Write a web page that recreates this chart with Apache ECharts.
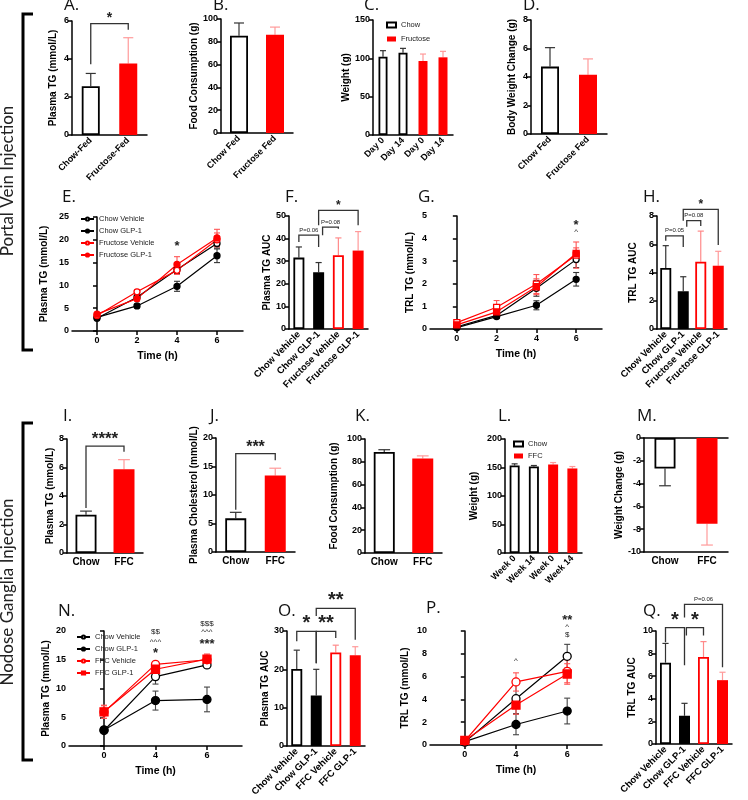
<!DOCTYPE html>
<html><head><meta charset="utf-8">
<script src="https://cdn.jsdelivr.net/npm/echarts@6/dist/echarts.min.js"></script>
<style>html,body{margin:0;padding:0;background:#fff}#c{width:748px;height:800px}</style>
</head><body><div id="c"></div>
<script>
// ================= DATA =================
const A_cats = ['Chow-Fed', 'Fructose-Fed'];
const A_mean = [2.57, 3.76];
const A_err = [3.24, 5.12];

const B_cats = ['Chow Fed', 'Fructose Fed'];
const B_mean = [85.3, 86.2];
const B_err = [96.5, 92.9];

const C_cats = ['Day 0', 'Day 14', 'Day 0', 'Day 14'];
const C_chow = [102.2, 107.4];
const C_chowErr = [110, 113];
const C_fru = [96.5, 101.3];
const C_fruErr = [105.6, 109.1];

const D_cats = ['Chow Fed', 'Fructose Fed'];
const D_mean = [4.73, 4.15];
const D_err = [6.06, 5.27];

const E_time = [0, 2, 4, 6];
const E_chowVeh = [2.8, 7.4, 13.5, 19.2];
const E_chowVehSem = [0.3, 0.5, 0.9, 1.0];
const E_chowGlp = [3.0, 5.5, 9.8, 16.5];
const E_chowGlpSem = [0.3, 0.4, 1.1, 1.5];
const E_fruVeh = [3.4, 8.6, 13.3, 20.0];
const E_fruVehSem = [0.4, 0.5, 0.9, 1.5];
const E_fruGlp = [3.7, 7.1, 14.6, 20.4];
const E_fruGlpSem = [0.4, 0.6, 1.7, 1.9];

const F_cats = ['Chow Vehicle', 'Chow GLP-1', 'Fructose Vehicle', 'Fructose GLP-1'];
const F_mean = [31.6, 25.1, 32.6, 34.7];
const F_err = [36.3, 29.4, 40.3, 43.1];

const G_time = [0, 2, 4, 6];
const G_chowVeh = [0.1, 0.6, 1.8, 3.07];
const G_chowVehSem = [0.05, 0.12, 0.35, 0.35];
const G_chowGlp = [0.06, 0.55, 1.05, 2.2];
const G_chowGlpSem = [0.05, 0.08, 0.2, 0.3];
const G_fruVeh = [0.28, 0.96, 1.99, 3.27];
const G_fruVehSem = [0.06, 0.3, 0.42, 0.58];
const G_fruGlp = [0.18, 0.76, 1.87, 3.34];
const G_fruGlpSem = [0.05, 0.2, 0.35, 0.25];

const H_cats = ['Chow Vehicle', 'Chow GLP-1', 'Fructose Vehicle', 'Fructose GLP-1'];
const H_mean = [4.32, 2.67, 4.76, 4.48];
const H_err = [5.9, 3.7, 6.93, 5.5];

const I_cats = ['Chow', 'FFC'];
const I_mean = [2.68, 5.87];
const I_err = [2.94, 6.55];

const J_cats = ['Chow', 'FFC'];
const J_mean = [5.9, 13.4];
const J_err = [6.96, 14.7];

const K_cats = ['Chow', 'FFC'];
const K_mean = [88.7, 82.8];
const K_err = [90.6, 85.2];

const L_cats = ['Week 0', 'Week 14', 'Week 0', 'Week 14'];
const L_chow = [153.5, 151.7];
const L_chowErr = [156.4, 153.5];
const L_ffc = [155.2, 148.3];
const L_ffcErr = [158.7, 151.7];

const M_cats = ['Chow', 'FFC'];
const M_mean = [-2.67, -7.53];
const M_err = [-4.19, -9.39];

const N_time = ['0', '4', '6'];
const N_chowVeh = [2.7, 12.07, 14.1];
const N_chowVehSem = [0.3, 1.3, 0.5];
const N_chowGlp = [2.8, 7.9, 8.1];
const N_chowGlpSem = [0.3, 1.65, 2.15];
const N_ffcVeh = [5.9, 14.2, 15.0];
const N_ffcVehSem = [1.1, 0.4, 0.8];
const N_ffcGlp = [5.95, 13.35, 15.1];
const N_ffcGlpSem = [1.15, 0.5, 0.9];

const O_cats = ['Chow Vehicle', 'Chow GLP-1', 'FFC Vehicle', 'FFC GLP-1'];
const O_mean = [20.1, 13.2, 24.4, 23.7];
const O_err = [25.0, 20.0, 26.3, 25.9];

const P_time = ['0', '4', '6'];
const P_chowVeh = [0.25, 4.06, 7.78];
const P_chowVehSem = [0.1, 1.3, 1.05];
const P_chowGlp = [0.3, 1.8, 2.98];
const P_chowGlpSem = [0.1, 0.9, 1.13];
const P_ffcVeh = [0.35, 5.53, 6.46];
const P_ffcVehSem = [0.1, 0.8, 1.0];
const P_ffcGlp = [0.4, 3.5, 6.23];
const P_ffcGlpSem = [0.1, 0.8, 0.9];

const Q_cats = ['Chow Vehicle', 'Chow GLP-1', 'FFC Vehicle', 'FFC GLP-1'];
const Q_mean = [7.2, 2.5, 7.7, 5.65];
const Q_err = [8.9, 3.6, 9.06, 6.35];

// significance brackets: [leftCat, rightCat, top, leftLegEnd, rightLegEnd, text]
const A_sig = [[0, 1, 5.86, 3.72, 5.54, '*']];
const F_sig = [[0, 1, 41.5, 38.5, 36.3, 'P=0.06'], [1, 2, 45.1, 41.5, 44.4, 'P=0.08'], [1, 3, 52.5, 45.9, 45.9, '*']];
const H_sig = [[0, 1, 6.6, 6.25, 5.8, 'P=0.05'], [1, 2, 7.67, 7.24, 7.3, 'P=0.08'], [1, 3, 8.47, 7.67, 5.94, '*']];
const I_sig = [[0, 1, 7.5, 3.15, 7.1, '****']];
const J_sig = [[0, 1, 17.25, 7.4, 16.1, '***']];
const O_sig = [[0, 1, 29.9, 27.3, 21.6, '*'], [1, 2, 29.9, 21.6, 28.2, '**'], [1, 3, 35.9, 33.9, 27.7, '**']];
const Q_sig = [[0, 1, 10.3, 9.0, 6.97, '*'], [1, 2, 10.3, 9.6, 9.6, '*'], [1, 3, 12.35, 11.2, 6.8, 'P=0.06']];

// point annotations: [x, y, text]
const E_marks = [[4, 19.2, '*']];
const G_marks = [[6, 4.73, '*'], [6, 4.3, '^']];
const N_marks = [[1, 19.8, '$$'], [1, 18.1, '^^^'], [1, 16.7, '*'], [2, 21.2, '$$$'], [2, 19.8, '^^^'], [2, 18.3, '***']];
const P_marks = [[1, 7.37, '^'], [2, 11.2, '**'], [2, 10.4, '^'], [2, 9.7, '$']];

// ================= STYLE / BUILD =================
const FONT = 'Liberation Sans';
const RED = '#ff0000';
const ST = {
  white: { color: '#fff', borderColor: '#000', borderWidth: 1.8 },
  black: { color: '#000', borderColor: '#000', borderWidth: 1.8 },
  redOpen: { color: '#fff', borderColor: RED, borderWidth: 1.8 },
  red: { color: RED, borderColor: RED, borderWidth: 0 }
};
const ERRC = { white: '#333', black: '#333', redOpen: '#ff8a8a', red: '#ff9a9a' };

const option = {
  backgroundColor: '#fff', animation: false,
  grid: [], xAxis: [], yAxis: [], series: [], legend: [], title: [], graphic: []
};

function addGrid(l, t, w, h) {
  option.grid.push({ left: l, top: t, width: w, height: h });
  return option.grid.length - 1;
}
function yAx(gi, min, max, interval, name, gap) {
  option.yAxis.push({
    type: 'value', gridIndex: gi, min, max, interval, name, nameLocation: 'middle', nameGap: gap,
    nameTextStyle: { fontFamily: FONT, fontWeight: 'bold', fontSize: 10, color: '#000' },
    axisLine: { show: true, lineStyle: { color: '#000', width: 1.5 } },
    axisTick: { show: true, length: 4, lineStyle: { color: '#000', width: 1.5 } },
    axisLabel: { fontFamily: FONT, fontWeight: 'bold', fontSize: 9, color: '#000', margin: 3 },
    splitLine: { show: false }
  });
  return option.yAxis.length - 1;
}
function catX(gi, cats, rotate, fs) {
  option.xAxis.push({
    type: 'category', gridIndex: gi, data: cats, boundaryGap: true,
    axisLine: { onZero: false, lineStyle: { color: '#000', width: 1.5 } },
    axisTick: { alignWithLabel: true, length: 4, lineStyle: { color: '#000', width: 1.5 } },
    axisLabel: { rotate, interval: 0, fontFamily: FONT, fontWeight: 'bold', fontSize: fs, color: '#000', margin: 4 },
    splitLine: { show: false }
  });
  return option.xAxis.length - 1;
}
function valX(gi, min, max, ticks, fmt) {
  option.xAxis.push({
    type: 'value', gridIndex: gi, min, max,
    name: 'Time (h)', nameLocation: 'middle', nameGap: 20,
    nameTextStyle: { fontFamily: FONT, fontWeight: 'bold', fontSize: 10.5, color: '#000' },
    axisLine: { onZero: false, lineStyle: { color: '#000', width: 1.5 } },
    axisTick: { length: 4, customValues: ticks, lineStyle: { color: '#000', width: 1.5 } },
    axisLabel: { customValues: ticks, formatter: fmt, fontFamily: FONT, fontWeight: 'bold', fontSize: 9, color: '#000', margin: 5 },
    splitLine: { show: false }
  });
  return option.xAxis.length - 1;
}
function errSeries(xi, yi, rows, colors, capHalf) {
  option.series.push({
    type: 'custom', xAxisIndex: xi, yAxisIndex: yi, silent: true, z: 1, clip: false,
    data: rows, encode: { x: 0, y: [1, 2] },
    renderItem(params, api) {
      const x = api.value(0);
      const p0 = api.coord([x, api.value(1)]);
      const p1 = api.coord([x, api.value(2)]);
      const c = colors[params.dataIndex];
      const st = { stroke: c, lineWidth: 1.2 };
      return { type: 'group', children: [
        { type: 'line', shape: { x1: p0[0], y1: p0[1], x2: p1[0], y2: p1[1] }, style: st },
        { type: 'line', shape: { x1: p1[0] - capHalf, y1: p1[1], x2: p1[0] + capHalf, y2: p1[1] }, style: st }
      ] };
    }
  });
}
function lineErr(xi, yi, xs, mean, sem, color, capHalf) {
  option.series.push({
    type: 'custom', xAxisIndex: xi, yAxisIndex: yi, silent: true, z: 1, clip: false,
    data: xs.map((x, i) => [x, mean[i] - sem[i], mean[i] + sem[i]]), encode: { x: 0, y: [1, 2] },
    renderItem(params, api) {
      const x = api.value(0);
      const lo = api.coord([x, api.value(1)]);
      const hi = api.coord([x, api.value(2)]);
      const st = { stroke: color, lineWidth: 1.1 };
      return { type: 'group', children: [
        { type: 'line', shape: { x1: lo[0], y1: lo[1], x2: hi[0], y2: hi[1] }, style: st },
        { type: 'line', shape: { x1: lo[0] - capHalf, y1: lo[1], x2: lo[0] + capHalf, y2: lo[1] }, style: st },
        { type: 'line', shape: { x1: hi[0] - capHalf, y1: hi[1], x2: hi[0] + capHalf, y2: hi[1] }, style: st }
      ] };
    }
  });
}
function sigSeries(xi, yi, specs, starSize, dx) {
  option.series.push({
    type: 'custom', xAxisIndex: xi, yAxisIndex: yi, silent: true, z: 5, clip: false,
    data: specs.map(s => [s[0], s[1], s[2], s[3], s[4]]), encode: { x: [0, 1], y: [2, 3, 4] },
    renderItem(params, api) {
      const s = specs[params.dataIndex];
      const bw = api.size([1, 0])[0];
      const off = (dx && dx[params.dataIndex]) || [0, 0];
      const x1 = api.coord([s[0], s[2]])[0] + off[0] * bw;
      const x2 = api.coord([s[1], s[2]])[0] + off[1] * bw;
      const yt = api.coord([s[0], s[2]])[1];
      const yl = api.coord([s[0], s[3]])[1];
      const yr = api.coord([s[1], s[4]])[1];
      const isP = s[5].indexOf('P=') === 0;
      return { type: 'group', children: [
        { type: 'polyline', shape: { points: [[x1, yl], [x1, yt], [x2, yt], [x2, yr]] }, style: { stroke: '#333', lineWidth: 1.3, fill: null } },
        { type: 'text', style: { text: s[5], x: (x1 + x2) / 2, y: isP ? yt - 2 : yt + starSize * 0.12,
          align: 'center', verticalAlign: 'bottom', fontFamily: FONT,
          fontSize: isP ? 6 : starSize, fontWeight: isP ? 'normal' : 'bold', fill: '#222' } }
      ] };
    }
  });
}
function markSeries(xi, yi, marks) {
  option.series.push({
    type: 'custom', xAxisIndex: xi, yAxisIndex: yi, silent: true, z: 6, clip: false,
    data: marks.map(m => [m[0], m[1]]), encode: { x: 0, y: 1 },
    renderItem(params, api) {
      const m = marks[params.dataIndex];
      const p = api.coord([m[0], m[1]]);
      const star = m[2].indexOf('*') >= 0;
      const fs = star ? 13 : 8;
      return { type: 'text', style: { text: m[2], x: p[0], y: p[1] + (star ? fs * 0.25 : 0), align: 'center', verticalAlign: 'middle',
        fontFamily: FONT, fontSize: fs, fontWeight: star ? 'bold' : 'normal', fill: '#222' } };
    }
  });
}
function barPanel(o) {
  const gi = addGrid(o.l, o.t, o.w, o.h);
  const xi = catX(gi, o.cats, o.rotate, o.fs);
  const yi = yAx(gi, o.min, o.max, o.interval, o.name, o.gap);
  option.series.push({
    type: 'bar', name: o.id, xAxisIndex: xi, yAxisIndex: yi, barWidth: o.bw, z: 2,
    data: o.mean.map((v, i) => ({ value: v, itemStyle: ST[o.styles[i]] }))
  });
  errSeries(xi, yi, o.mean.map((v, i) => [i, v, o.err[i]]), o.styles.map(s => ERRC[s]), o.bw * 0.28);
  if (o.sig) sigSeries(xi, yi, o.sig, o.star || 14, o.dx);
  return { gi, xi, yi };
}
function groupPanel(o) { // two groups, 2 bars each, legend
  const gi = addGrid(o.l, o.t, o.w, o.h);
  const xi = catX(gi, o.cats, 45, 9);
  const yi = yAx(gi, o.min, o.max, o.interval, o.name, o.gap);
  option.series.push({
    type: 'bar', name: o.id + ':' + o.names[0], xAxisIndex: xi, yAxisIndex: yi, barWidth: o.bw, barGap: '-100%', z: 2,
    itemStyle: ST.white, data: [o.g1[0], o.g1[1], '-', '-']
  });
  option.series.push({
    type: 'bar', name: o.id + ':' + o.names[1], xAxisIndex: xi, yAxisIndex: yi, barWidth: o.bw, barGap: '-100%', z: 2,
    itemStyle: ST.red, data: ['-', '-', o.g2[0], o.g2[1]]
  });
  errSeries(xi, yi, [[0, o.g1[0], o.g1e[0]], [1, o.g1[1], o.g1e[1]], [2, o.g2[0], o.g2e[0]], [3, o.g2[1], o.g2e[1]]],
    ['#333', '#333', ERRC.red, ERRC.red], 3);
  option.legend.push({
    left: o.legL, top: o.legT, orient: 'vertical', icon: 'rect', itemWidth: 9, itemHeight: 5, itemGap: o.legGap,
    selectedMode: false, padding: 0, data: [o.id + ':' + o.names[0], o.id + ':' + o.names[1]],
    formatter: n => n.split(':')[1],
    textStyle: { fontFamily: FONT, fontSize: 7.5, color: '#222', padding: [0, 0, 0, 0] }
  });
}
function linePanel(o) {
  const gi = addGrid(o.l, o.t, o.w, o.h);
  const xi = valX(gi, o.xmin, o.xmax, o.ticks, o.fmt);
  const yi = yAx(gi, o.min, o.max, o.interval, o.name, o.gap);
  o.lines.forEach(L => {
    lineErr(xi, yi, o.xs, L.y, L.sem, L.errc, 3);
    option.series.push({
      type: 'line', name: o.id + ':' + L.name, xAxisIndex: xi, yAxisIndex: yi, z: 3,
      data: o.xs.map((x, i) => [x, L.y[i]]),
      symbol: L.sym, symbolSize: o.ss, showSymbol: true,
      itemStyle: { color: L.open ? '#fff' : L.c, borderColor: L.c, borderWidth: 1.3 },
      lineStyle: { color: L.c, width: 1.2 }
    });
  });
  if (o.marks) markSeries(xi, yi, o.marks);
  if (o.legend) {
    option.legend.push({
      left: o.legL, top: o.legT, orient: 'vertical', itemWidth: 13, itemHeight: 4, itemGap: 4,
      selectedMode: false, padding: 0, data: o.lines.map(L => o.id + ':' + L.name),
      formatter: n => n.split(':')[1],
      textStyle: { fontFamily: FONT, fontSize: 7.5, color: '#222' }
    });
  }
}

// ---- Row 1 ----
barPanel({ id: 'A', l: 72, t: 21, w: 75, h: 114, cats: A_cats, mean: A_mean, err: A_err, styles: ['white', 'red'],
  rotate: 45, fs: 9, bw: 18, min: 0, max: 6, interval: 2, name: 'Plasma TG (mmol/L)', gap: 14, sig: A_sig, star: 14 });
barPanel({ id: 'B', l: 221, t: 19, w: 72, h: 114, cats: B_cats, mean: B_mean, err: B_err, styles: ['white', 'red'],
  rotate: 45, fs: 9, bw: 18, min: 0, max: 100, interval: 20, name: 'Food Consumption (g)', gap: 21 });
groupPanel({ id: 'C', l: 373, t: 20, w: 80, h: 115, cats: C_cats, names: ['Chow', 'Fructose'],
  g1: C_chow, g1e: C_chowErr, g2: C_fru, g2e: C_fruErr, bw: 9, min: 0, max: 150, interval: 50,
  name: 'Weight (g)', gap: 21, legL: 386, legT: 21, legGap: 6 });
barPanel({ id: 'D', l: 531, t: 20, w: 76, h: 114, cats: D_cats, mean: D_mean, err: D_err, styles: ['white', 'red'],
  rotate: 45, fs: 9, bw: 18, min: 0, max: 8, interval: 2, name: 'Body Weight Change (g)', gap: 14 });

// ---- Row 2 ----
linePanel({ id: 'E', l: 72, t: 217, w: 171, h: 114, xs: E_time, xmin: -1.25, xmax: 7.3, ticks: [0, 2, 4, 6],
  fmt: v => String(v), min: 0, max: 25, interval: 5, name: 'Plasma TG (mmol/L)', gap: 23, ss: 6,
  lines: [
    { name: 'Chow Vehicle', y: E_chowVeh, sem: E_chowVehSem, c: '#000', errc: '#333', sym: 'circle', open: true },
    { name: 'Chow GLP-1', y: E_chowGlp, sem: E_chowGlpSem, c: '#000', errc: '#333', sym: 'circle', open: false },
    { name: 'Fructose Vehicle', y: E_fruVeh, sem: E_fruVehSem, c: RED, errc: '#f55', sym: 'circle', open: true },
    { name: 'Fructose GLP-1', y: E_fruGlp, sem: E_fruGlpSem, c: RED, errc: '#f55', sym: 'circle', open: false }
  ], marks: E_marks, legend: true, legL: 80, legT: 215 });
barPanel({ id: 'F', l: 289, t: 216, w: 79, h: 113, cats: F_cats, mean: F_mean, err: F_err, styles: ['white', 'black', 'redOpen', 'red'],
  rotate: 45, fs: 9.5, bw: 11, min: 0, max: 50, interval: 10, name: 'Plasma TG AUC', gap: 16, sig: F_sig, star: 12,
  dx: [[0, 0], [0.2, 0], [0, 0]] });
linePanel({ id: 'G', l: 430, t: 216, w: 172, h: 113, xs: G_time, xmin: -1.35, xmax: 7.3, ticks: [0, 2, 4, 6],
  fmt: v => String(v), min: 0, max: 5, interval: 1, name: 'TRL TG (mmol/L)', gap: 15, ss: 6,
  lines: [
    { name: 'Chow Vehicle', y: G_chowVeh, sem: G_chowVehSem, c: '#000', errc: '#333', sym: 'circle', open: true },
    { name: 'Chow GLP-1', y: G_chowGlp, sem: G_chowGlpSem, c: '#000', errc: '#333', sym: 'circle', open: false },
    { name: 'Fructose Vehicle', y: G_fruVeh, sem: G_fruVehSem, c: RED, errc: '#f55', sym: 'rect', open: true },
    { name: 'Fructose GLP-1', y: G_fruGlp, sem: G_fruGlpSem, c: RED, errc: '#f55', sym: 'rect', open: false }
  ], marks: G_marks });
barPanel({ id: 'H', l: 657, t: 216, w: 70, h: 113, cats: H_cats, mean: H_mean, err: H_err, styles: ['white', 'black', 'redOpen', 'red'],
  rotate: 45, fs: 9.5, bw: 11, min: 0, max: 8, interval: 2, name: 'TRL TG AUC', gap: 19, sig: H_sig, star: 12,
  dx: [[0, 0], [0.2, 0], [0, 0]] });

// ---- Row 3 ----
barPanel({ id: 'I', l: 67, t: 439, w: 76, h: 114, cats: I_cats, mean: I_mean, err: I_err, styles: ['white', 'red'],
  rotate: 0, fs: 10, bw: 21, min: 0, max: 8, interval: 2, name: 'Plasma TG (mmol/L)', gap: 12, sig: I_sig, star: 17 });
barPanel({ id: 'J', l: 216, t: 438, w: 79, h: 114, cats: J_cats, mean: J_mean, err: J_err, styles: ['white', 'red'],
  rotate: 0, fs: 10, bw: 21, min: 0, max: 20, interval: 5, name: 'Plasma Cholesterol (mmol/L)', gap: 17, sig: J_sig, star: 16 });
barPanel({ id: 'K', l: 365, t: 439, w: 77, h: 114, cats: K_cats, mean: K_mean, err: K_err, styles: ['white', 'red'],
  rotate: 0, fs: 10, bw: 21, min: 0, max: 100, interval: 20, name: 'Food Consumption (g)', gap: 26 });
groupPanel({ id: 'L', l: 505, t: 439, w: 77, h: 114, cats: L_cats, names: ['Chow', 'FFC'],
  g1: L_chow, g1e: L_chowErr, g2: L_ffc, g2e: L_ffcErr, bw: 10, min: 0, max: 200, interval: 50,
  name: 'Weight (g)', gap: 26, legL: 513, legT: 440, legGap: 4 });
(function () {
  const r = barPanel({ id: 'M', l: 644, t: 438, w: 84, h: 114, cats: M_cats, mean: M_mean, err: M_err, styles: ['white', 'red'],
    rotate: 0, fs: 10, bw: 21, min: -10, max: 0, interval: 2, name: 'Weight Change (g)', gap: 17 });
  option.xAxis.push({ type: 'category', gridIndex: r.gi, position: 'top', data: M_cats,
    axisLine: { show: true, onZero: false, lineStyle: { color: '#000', width: 1.5 } },
    axisTick: { show: false }, axisLabel: { show: false } });
})();

// ---- Row 4 ----
linePanel({ id: 'N', l: 69, t: 631, w: 173, h: 115, xs: [0, 1, 2], xmin: -0.68, xmax: 2.68, ticks: [0, 1, 2],
  fmt: v => N_time[v], min: 0, max: 20, interval: 5, name: 'Plasma TG (mmol/L)', gap: 18, ss: 8,
  lines: [
    { name: 'Chow Vehicle', y: N_chowVeh, sem: N_chowVehSem, c: '#000', errc: '#444', sym: 'circle', open: true },
    { name: 'Chow GLP-1', y: N_chowGlp, sem: N_chowGlpSem, c: '#000', errc: '#444', sym: 'circle', open: false },
    { name: 'FFC Vehicle', y: N_ffcVeh, sem: N_ffcVehSem, c: RED, errc: '#f55', sym: 'circle', open: true },
    { name: 'FFC GLP-1', y: N_ffcGlp, sem: N_ffcGlpSem, c: RED, errc: '#f55', sym: 'rect', open: false }
  ], marks: N_marks, legend: true, legL: 76, legT: 633 });
barPanel({ id: 'O', l: 287, t: 631, w: 78, h: 115, cats: O_cats, mean: O_mean, err: O_err, styles: ['white', 'black', 'redOpen', 'red'],
  rotate: 45, fs: 9.5, bw: 11, min: 0, max: 30, interval: 10, name: 'Plasma TG AUC', gap: 14, sig: O_sig, star: 20 });
linePanel({ id: 'P', l: 430, t: 631, w: 172, h: 114, xs: [0, 1, 2], xmin: -0.68, xmax: 2.68, ticks: [0, 1, 2],
  fmt: v => P_time[v], min: 0, max: 10, interval: 2, name: 'TRL TG (mmol/L)', gap: 20, ss: 8,
  lines: [
    { name: 'Chow Vehicle', y: P_chowVeh, sem: P_chowVehSem, c: '#000', errc: '#444', sym: 'circle', open: true },
    { name: 'Chow GLP-1', y: P_chowGlp, sem: P_chowGlpSem, c: '#000', errc: '#444', sym: 'circle', open: false },
    { name: 'FFC Vehicle', y: P_ffcVeh, sem: P_ffcVehSem, c: RED, errc: '#f55', sym: 'circle', open: true },
    { name: 'FFC GLP-1', y: P_ffcGlp, sem: P_ffcGlpSem, c: RED, errc: '#f55', sym: 'rect', open: false }
  ], marks: P_marks });
barPanel({ id: 'Q', l: 656, t: 631, w: 76, h: 113, cats: Q_cats, mean: Q_mean, err: Q_err, styles: ['white', 'black', 'redOpen', 'red'],
  rotate: 45, fs: 9.5, bw: 11, min: 0, max: 10, interval: 2, name: 'TRL TG AUC', gap: 19, sig: Q_sig, star: 20,
  dx: [[0, 0], [0.1, 0], [0, 0]] });

// ---- panel letters ----
const letters = [['A.', 64, -3], ['B.', 213, -3], ['C.', 364, -3], ['D.', 523, -3],
  ['E.', 62, 189], ['F.', 285, 189], ['G.', 418, 189], ['H.', 643, 189],
  ['I.', 63, 408], ['J.', 210, 408], ['K.', 355, 408], ['L.', 498, 408], ['M.', 637, 408],
  ['N.', 58, 603], ['O.', 278, 603], ['P.', 426, 600], ['Q.', 643, 603]];
letters.forEach(([t, x, y]) => option.title.push({ text: t, left: x, top: y, padding: 0,
  textStyle: { fontFamily: 'Open Sans', fontWeight: 'normal', fontSize: 17, color: '#111' } }));

// ---- row brackets & labels ----
option.graphic = [
  { type: 'polyline', shape: { points: [[33, 14], [23, 14], [23, 350], [33, 350]] }, style: { stroke: '#000', lineWidth: 3, fill: null } },
  { type: 'polyline', shape: { points: [[33, 423], [23, 423], [23, 760], [33, 760]] }, style: { stroke: '#000', lineWidth: 3, fill: null } },
  { type: 'text', x: 8, y: 181, rotation: Math.PI / 2, style: { text: 'Portal Vein Injection', align: 'center', verticalAlign: 'middle', fontFamily: 'Lato', fontSize: 17, fill: '#222' } },
  { type: 'text', x: 8, y: 592, rotation: Math.PI / 2, style: { text: 'Nodose Ganglia Injection', align: 'center', verticalAlign: 'middle', fontFamily: 'Lato', fontSize: 17, fill: '#222' } }
];

const chart = echarts.init(document.getElementById('c'), null, { renderer: 'canvas' });
chart.setOption(option);
</script>
</body></html>
